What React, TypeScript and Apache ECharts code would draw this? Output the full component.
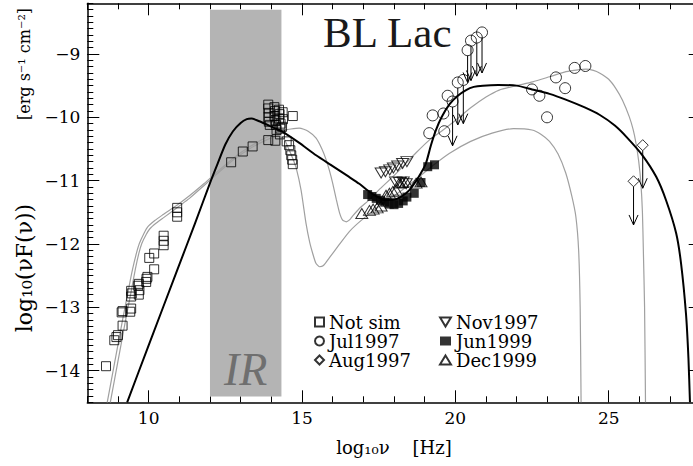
import React, { useEffect, useRef } from "react";
import * as echarts from "echarts";

// ---------- axes ----------
const xRange = [8, 28];
const yRange = [-14.5, -8.2];
const xTickLabels = [10, 15, 20, 25];
const xMinorTicks = [8, 9, 10, 11, 12, 13, 14, 15, 16, 17, 18, 19, 20, 21, 22, 23, 24, 25, 26, 27, 28];
const yTickLabels = [-14, -13, -12, -11, -10, -9];

// ---------- IR band ----------
const irBandX = [12, 14.33];
const irBandY = [-14.41, -8.3];

// ---------- data ----------
const notSim = [
  [8.61, -13.93], [8.88, -13.52], [8.95, -13.47], [9.0, -13.44], [9.15, -13.29],
  [9.12, -13.08], [9.15, -13.06], [9.4, -13.07], [9.43, -13.02], [9.43, -12.83],
  [9.45, -12.78], [9.43, -12.74], [9.68, -12.8], [9.7, -12.73], [9.66, -12.66],
  [9.68, -12.63], [9.92, -12.6], [9.93, -12.55], [9.96, -12.52], [10.18, -12.4],
  [10.02, -12.22], [10.18, -12.15], [10.49, -12.02], [10.49, -11.95], [10.49, -11.87],
  [10.93, -11.57], [10.93, -11.5], [10.93, -11.43],
  [12.69, -10.71], [13.07, -10.54], [13.39, -10.46], [13.9, -10.36], [14.13, -10.37],
  [13.9, -9.8], [13.9, -9.86], [13.92, -9.93], [13.9, -10.0], [13.92, -10.07], [13.95, -10.12],
  [14.1, -9.84], [14.12, -9.9], [14.1, -9.98], [14.13, -10.05], [14.15, -10.12], [14.17, -10.2],
  [14.25, -9.88], [14.27, -9.95], [14.25, -10.02], [14.3, -10.1], [14.3, -10.18], [14.28, -10.27],
  [14.37, -9.92], [14.38, -10.03], [14.35, -10.15], [14.7, -9.98],
  [14.5, -10.38], [14.58, -10.44], [14.62, -10.52], [14.65, -10.6], [14.68, -10.67], [14.7, -10.74],
];
const jul1997 = [
  [19.75, -9.66], [19.61, -9.94], [19.26, -9.97], [19.15, -10.25], [19.64, -10.22],
  [22.5, -9.56], [22.74, -9.66], [22.99, -10.0], [23.28, -9.37], [23.58, -9.54],
  [23.89, -9.22], [24.24, -9.19],
];
// upper limits: [log nu, value, arrow tip]
const jul1997Limits = [
  [20.87, -8.66, -9.3], [20.7, -8.74, -9.35], [20.51, -8.79, -9.42], [20.4, -8.94, -9.45],
  [20.26, -9.41, -10.1], [20.08, -9.45, -10.12], [19.91, -9.75, -10.45],
];
const aug1997Limits = [
  [26.11, -10.44, -11.12], [25.81, -11.01, -11.7],
];
const nov1997 = [
  [17.58, -10.88], [17.72, -10.86], [17.86, -10.83], [17.98, -10.8], [18.12, -10.77],
  [18.28, -10.73], [18.42, -10.7], [18.05, -11.02], [18.18, -11.03], [18.3, -11.02], [18.4, -11.05],
];
const jun1999 = [
  [17.14, -11.22], [17.28, -11.25], [17.42, -11.28], [17.56, -11.31], [17.7, -11.34],
  [17.85, -11.37], [18.0, -11.38], [18.15, -11.36], [18.3, -11.32], [18.42, -11.26],
  [18.66, -11.2], [18.88, -11.03], [19.1, -10.78], [19.32, -10.75],
];
const dec1999 = [
  [16.95, -11.52], [17.2, -11.47], [17.32, -11.45], [17.45, -11.43], [17.58, -11.4],
  [17.74, -11.23], [17.85, -11.2], [17.96, -11.17], [18.07, -11.15], [18.17, -11.04],
  [18.28, -11.03], [18.39, -11.02], [18.72, -11.04], [18.88, -11.02],
];

// ---------- model curves ----------
const modelBlack = [
  [9.3, -14.5], [10.0, -13.6], [10.95, -12.39], [11.5, -11.69], [12.03, -11.0], [12.25, -10.73],
  [12.5, -10.43], [12.75, -10.22], [13.0, -10.09], [13.2, -10.03], [13.35, -10.02], [13.55, -10.05],
  [13.83, -10.11], [14.1, -10.17], [14.37, -10.23], [14.9, -10.4], [15.46, -10.6], [16.0, -10.77],
  [16.5, -10.93], [16.87, -11.05], [17.1, -11.14], [17.4, -11.24], [17.7, -11.3], [18.0, -11.3],
  [18.25, -11.25], [18.5, -11.15], [18.7, -11.02], [18.88, -10.88], [19.04, -10.73], [19.2, -10.45],
  [19.37, -10.2], [19.55, -10.0], [19.8, -9.8], [20.05, -9.67], [20.35, -9.57], [20.6, -9.52],
  [20.9, -9.5], [21.4, -9.49], [22.0, -9.5], [22.5, -9.56], [23.07, -9.63], [23.6, -9.72],
  [24.2, -9.84], [24.7, -9.96], [25.2, -10.13], [25.6, -10.32], [26.1, -10.6], [26.55, -10.94],
  [26.87, -11.31], [27.2, -11.83], [27.36, -12.31], [27.52, -13.1], [27.6, -13.8], [27.65, -14.5],
];
const modelGrayA = [
  [8.75, -14.5], [9.0, -13.85], [9.25, -13.2], [9.45, -12.7], [9.57, -12.39], [9.68, -12.15],
  [9.78, -11.99], [9.92, -11.85], [10.04, -11.76], [10.25, -11.67], [10.5, -11.58], [11.0, -11.4],
  [11.33, -11.28], [11.8, -11.08], [12.31, -10.86], [12.8, -10.66], [13.28, -10.5], [13.83, -10.36],
  [14.2, -10.3], [14.4, -10.33], [14.55, -10.48], [14.7, -10.65], [14.81, -10.8], [14.97, -11.15],
  [15.13, -11.67], [15.25, -11.97], [15.35, -12.15], [15.45, -12.3], [15.57, -12.36], [15.7, -12.34],
  [15.89, -12.22], [16.2, -12.02], [16.55, -11.8], [17.0, -11.6], [17.63, -11.36], [18.2, -11.17],
  [18.72, -10.98], [19.3, -10.75], [19.8, -10.57], [20.5, -10.38], [21.2, -10.25], [21.9, -10.18],
  [22.5, -10.2], [22.8, -10.27], [23.07, -10.38], [23.35, -10.58], [23.6, -10.88], [23.8, -11.25],
  [23.93, -11.57], [24.02, -12.1], [24.07, -13.0], [24.1, -14.5],
];
const modelGrayB = [
  [8.65, -14.5], [8.9, -13.85], [9.15, -13.2], [9.35, -12.7], [9.48, -12.39], [9.6, -12.15],
  [9.7, -11.99], [9.85, -11.83], [9.97, -11.73], [10.2, -11.63], [10.46, -11.54], [11.0, -11.36],
  [11.33, -11.24], [11.8, -11.05], [12.31, -10.83], [12.8, -10.63], [13.28, -10.47], [13.83, -10.32],
  [14.37, -10.21], [14.91, -10.17], [15.2, -10.22], [15.46, -10.33], [15.65, -10.5], [15.78, -10.66],
  [15.9, -10.85], [16.0, -11.04], [16.12, -11.3], [16.22, -11.5], [16.32, -11.62], [16.44, -11.65],
  [16.55, -11.62], [16.65, -11.56], [16.87, -11.44], [17.2, -11.3], [17.5, -11.15], [18.0, -10.92],
  [18.72, -10.56], [19.15, -10.36], [19.6, -10.2], [20.0, -10.05], [20.5, -9.85], [21.0, -9.68],
  [21.43, -9.57], [22.0, -9.5], [22.52, -9.44], [23.07, -9.36], [23.61, -9.28], [24.0, -9.25],
  [24.26, -9.24], [24.5, -9.26], [24.7, -9.3], [25.0, -9.4], [25.24, -9.55], [25.45, -9.73],
  [25.67, -9.99], [25.8, -10.2], [25.89, -10.41], [25.98, -10.7], [26.05, -11.04], [26.1, -11.5],
  [26.13, -12.1], [26.17, -13.0], [26.2, -14.5],
];

const SERIF = "DejaVu Serif";

function yMinorTickValues() {
  const out: number[] = [];
  for (let i = Math.round(yRange[0] * 10); i <= Math.round(yRange[1] * 10); i++) out.push(i / 10);
  return out;
}

function fmtMinus(v: number) {
  return v < 0 ? "\u2212" + Math.abs(v) : String(v);
}

export default function App() {
  const ref = useRef<HTMLDivElement>(null);
  useEffect(() => {
    if (!ref.current) return;
    const chart = echarts.init(ref.current, undefined, { renderer: "svg" });
    const yMinor = yMinorTickValues();

    const hollow = { color: "rgba(0,0,0,0)", borderColor: "#000", borderWidth: 1 };
    const arrowRender = (params: any, api: any) => {
      const top = api.coord([api.value(0), api.value(1)]);
      const tip = api.coord([api.value(0), api.value(2)]);
      const r = 5.5;
      return {
        type: "group",
        children: [
          { type: "line", shape: { x1: top[0], y1: top[1] + r, x2: tip[0], y2: tip[1] }, style: { stroke: "#000", lineWidth: 1 } },
          {
            type: "polyline",
            shape: { points: [[tip[0] - 4.5, tip[1] - 10], [tip[0], tip[1]], [tip[0] + 4.5, tip[1] - 10]] },
            style: { stroke: "#000", fill: null, lineWidth: 1 },
          },
        ],
      };
    };

    const baseX = { type: "value", min: xRange[0], max: xRange[1], splitLine: { show: false } };
    const baseY = { type: "value", min: yRange[0], max: yRange[1], splitLine: { show: false } };
    const axisLine = { show: true, lineStyle: { color: "#000", width: 1.5 } };
    const tickStyle = { color: "#000", width: 1 };
    const legendText = { fontFamily: SERIF, fontSize: 18, color: "#000", lineHeight: 18 };

    const option: any = {
      animation: false,
      backgroundColor: "#fff",
      title: {
        text: "BL Lac",
        left: 318,
        top: 6,
        textStyle: { fontFamily: "Liberation Serif", fontSize: 43, fontWeight: "normal", color: "#1a1a1a" },
      },
      grid: { left: 87.3, top: 3.3, width: 613.4, height: 399 },
      legend: [
        {
          data: ["Not sim", "Jul1997", "Aug1997"],
          orient: "vertical",
          left: 309,
          top: 308,
          itemWidth: 9,
          itemHeight: 9,
          itemGap: 1,
          textStyle: legendText,
        },
        {
          data: [
            { name: "Nov1997", icon: "path://M0,0 L12,0 L6,10 Z" },
            "Jun1999",
            "Dec1999",
          ],
          orient: "vertical",
          left: 434,
          top: 308,
          itemWidth: 11,
          itemHeight: 9,
          itemGap: 1,
          textStyle: legendText,
        },
      ],
      xAxis: [
        {
          ...baseX,
          position: "bottom",
          axisLine,
          axisTick: { inside: true, length: 12, customValues: xTickLabels, lineStyle: tickStyle },
          axisLabel: { customValues: xTickLabels, fontFamily: SERIF, fontSize: 17, color: "#000", margin: 7 },
          name: "log\u2081\u2080\u03bd    [Hz]",
          nameLocation: "middle",
          nameGap: 36,
          nameTextStyle: { fontFamily: SERIF, fontSize: 18, color: "#000" },
        },
        {
          ...baseX,
          position: "bottom",
          axisLine: { show: false },
          axisTick: { inside: true, length: 6, customValues: xMinorTicks, lineStyle: tickStyle },
          axisLabel: { show: false },
        },
        {
          ...baseX,
          position: "top",
          axisLine,
          axisTick: { inside: true, length: 12, customValues: xTickLabels, lineStyle: tickStyle },
          axisLabel: { show: false },
        },
        {
          ...baseX,
          position: "top",
          axisLine: { show: false },
          axisTick: { inside: true, length: 6, customValues: xMinorTicks, lineStyle: tickStyle },
          axisLabel: { show: false },
        },
      ],
      yAxis: [
        {
          ...baseY,
          position: "left",
          axisLine,
          axisTick: { inside: true, length: 12, customValues: yTickLabels, lineStyle: tickStyle },
          axisLabel: { customValues: yTickLabels, formatter: fmtMinus, fontFamily: SERIF, fontSize: 17, color: "#000", margin: 7 },
        },
        {
          ...baseY,
          position: "left",
          axisLine: { show: false },
          axisTick: { inside: true, length: 6, customValues: yMinor, lineStyle: tickStyle },
          axisLabel: { show: false },
        },
        {
          ...baseY,
          position: "right",
          axisLine,
          axisTick: { inside: true, length: 12, customValues: yTickLabels, lineStyle: tickStyle },
          axisLabel: { show: false },
        },
        {
          ...baseY,
          position: "right",
          axisLine: { show: false },
          axisTick: { inside: true, length: 6, customValues: yMinor, lineStyle: tickStyle },
          axisLabel: { show: false },
        },
      ],
      graphic: [
        {
          type: "text",
          x: 24,
          y: 268,
          rotation: Math.PI / 2,
          style: {
            text: "log\u2081\u2080(\u03bdF(\u03bd))",
            font: `22px "${SERIF}"`,
            fill: "#000",
            textAlign: "center",
            textVerticalAlign: "middle",
          },
        },
        {
          type: "text",
          x: 24,
          y: 64,
          rotation: Math.PI / 2,
          style: {
            text: "[erg s\u207b\u00b9 cm\u207b\u00b2]",
            font: `16px "${SERIF}"`,
            fill: "#000",
            textAlign: "center",
            textVerticalAlign: "middle",
          },
        },
      ],
      series: [
        {
          name: "IR band",
          type: "line",
          data: [],
          z: 1,
          silent: true,
          markArea: {
            silent: true,
            itemStyle: { color: "#b4b4b4" },
            label: {
              show: true,
              position: "insideBottom",
              distance: 4,
              fontFamily: "Liberation Serif",
              fontStyle: "italic",
              fontSize: 46,
              color: "#6f6f6f",
            },
            data: [[
              { name: "IR", xAxis: irBandX[0], yAxis: irBandY[1] },
              { xAxis: irBandX[1], yAxis: irBandY[0] },
            ]],
          },
        },
        {
          name: "model A",
          type: "line",
          data: modelGrayA,
          showSymbol: false,
          smooth: 0.2,
          z: 3,
          lineStyle: { color: "#a0a0a0", width: 1.2 },
        },
        {
          name: "model B",
          type: "line",
          data: modelGrayB,
          showSymbol: false,
          smooth: 0.2,
          z: 3,
          lineStyle: { color: "#a0a0a0", width: 1.2 },
        },
        {
          name: "model",
          type: "line",
          data: modelBlack,
          showSymbol: false,
          smooth: 0.2,
          z: 4,
          lineStyle: { color: "#000", width: 2 },
        },
        { name: "Not sim", type: "scatter", data: notSim, symbol: "rect", symbolSize: 9, itemStyle: hollow, z: 5 },
        { name: "Jul1997", type: "scatter", data: jul1997.concat(jul1997Limits.map((d) => [d[0], d[1]])), symbol: "circle", symbolSize: 11, itemStyle: hollow, z: 5 },
        { name: "Aug1997", type: "scatter", data: aug1997Limits.map((d) => [d[0], d[1]]), symbol: "diamond", symbolSize: 11, itemStyle: hollow, z: 5 },
        { name: "Nov1997", type: "scatter", data: nov1997, symbol: "triangle", symbolRotate: 180, symbolSize: [12, 10], itemStyle: hollow, z: 5 },
        { name: "Jun1999", type: "scatter", data: jun1999, symbol: "rect", symbolSize: 9, itemStyle: { color: "#000" }, z: 6 },
        { name: "Dec1999", type: "scatter", data: dec1999, symbol: "triangle", symbolSize: [12, 10], itemStyle: hollow, z: 5 },
        {
          name: "Jul1997 limits",
          type: "custom",
          data: jul1997Limits,
          renderItem: arrowRender,
          encode: { x: 0, y: [1, 2] },
          z: 5,
        },
        {
          name: "Aug1997 limits",
          type: "custom",
          data: aug1997Limits,
          renderItem: arrowRender,
          encode: { x: 0, y: [1, 2] },
          z: 5,
        },
      ],
    };
    chart.setOption(option);
    return () => chart.dispose();
  }, []);
  return (
    <div style={{ position: "fixed", left: 0, top: 0, width: 693, height: 466, overflow: "hidden", background: "#fff" }}>
      <div ref={ref} style={{ width: 702, height: 466 }} />
    </div>
  );
}
